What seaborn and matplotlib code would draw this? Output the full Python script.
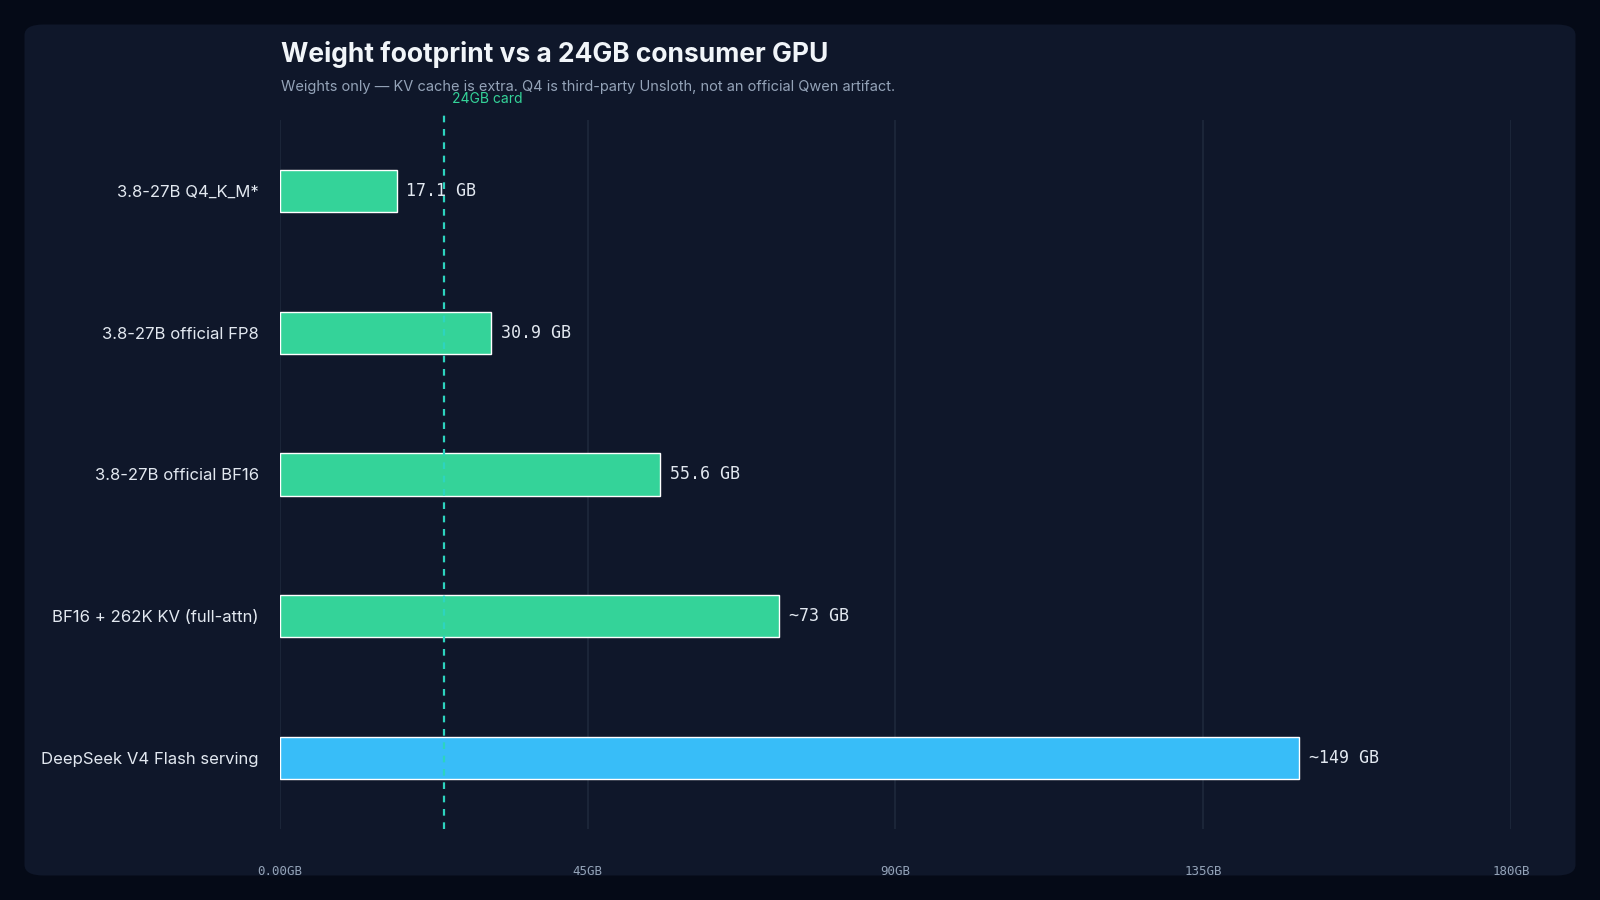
import matplotlib
matplotlib.use("Agg")
import matplotlib.pyplot as plt
from matplotlib.patches import FancyBboxPatch
import seaborn as sns
import pandas as pd

# data
labels = ["3.8-27B Q4_K_M*", "3.8-27B official FP8", "3.8-27B official BF16",
          "BF16 + 262K KV (full-attn)", "DeepSeek V4 Flash serving"]
values = [17.1, 30.9, 55.6, 73, 149]
value_text = ["17.1 GB", "30.9 GB", "55.6 GB", "~73 GB", "~149 GB"]
colors = ["#34d399", "#34d399", "#34d399", "#34d399", "#38bdf8"]
xticks = [0, 45, 90, 135, 180]
xtick_labels = ["0.00GB", "45GB", "90GB", "135GB", "180GB"]
card_gb = 24

sns.set_theme(style="dark")
plt.rcParams['font.family'] = ['Inter', 'DejaVu Sans']

W, H = 1568, 882
fig = plt.figure(figsize=(16, 9), dpi=100)
fig.patch.set_facecolor("#050a17")
panel = FancyBboxPatch((24 / W, 24 / H), 1520 / W, 834 / H,
                       boxstyle="round,pad=0,rounding_size=0.012",
                       transform=fig.transFigure, facecolor="#0f172a",
                       edgecolor="none", zorder=-10)
fig.patches.append(panel)

ax = fig.add_axes([274 / W, 1 - 812 / H, 1207 / W, 694 / H])
ax.set_facecolor("none")
df = pd.DataFrame({"label": labels, "value": values})
sns.barplot(data=df, x="value", y="label", hue="label", palette=colors,
            width=0.3, legend=False, ax=ax, zorder=3, saturation=1)
ax.set_xlim(0, 180)
ax.set_ylim(4.5, -0.5)
ax.set_xticks(xticks)
ax.set_xticklabels(xtick_labels, family="DejaVu Sans Mono", fontsize=9, color="#94a3b8")
ax.tick_params(axis="x", pad=26, length=0)
ax.tick_params(axis="y", length=0, pad=15, labelsize=12, labelcolor="#e2e8f0")
ax.set_xlabel("")
ax.set_ylabel("")
for s in ax.spines.values():
    s.set_visible(False)
for x in xticks:
    ax.axvline(x, color="#1e293b", lw=1.2, zorder=1)

for i, (v, t) in enumerate(zip(values, value_text)):
    ax.text(v + 1.4, i, t, va="center", ha="left", family="DejaVu Sans Mono",
            fontsize=12, color="#e2e8f0", zorder=5)

ax.axvline(card_gb, ymin=0, ymax=1.01, color="#2dd4bf", lw=1.6,
           ls=(0, (3, 3)), zorder=4, clip_on=False)
ax.text(card_gb + 1.2, -0.6, "24GB card", color="#34d399", fontsize=10,
        ha="left", va="bottom")

fig.text(275 / W, 1 - 53 / H, "Weight footprint vs a 24GB consumer GPU",
         fontsize=19, fontweight="bold", color="#f1f5f9", va="center")
fig.text(275 / W, 1 - 85 / H,
         "Weights only — KV cache is extra. Q4 is third-party Unsloth, not an official Qwen artifact.",
         fontsize=10.5, color="#94a3b8", va="center")

fig.savefig("out.png", dpi=100, facecolor=fig.get_facecolor())
